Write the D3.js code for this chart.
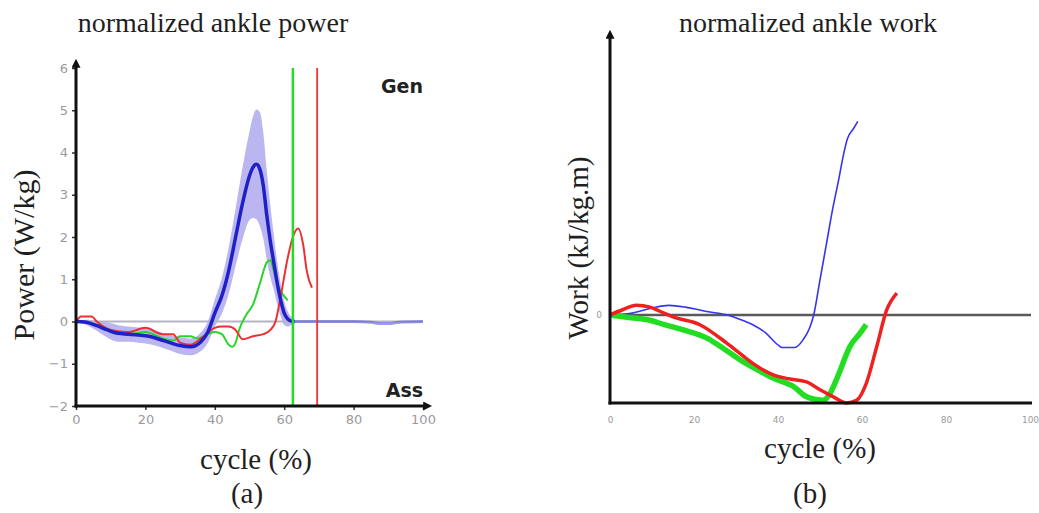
<!DOCTYPE html>
<html>
<head>
<meta charset="utf-8">
<title></title>
<style type="text/css">
body { margin: 0; background: #fff; }
.serif { font-family: "Liberation Serif", "DejaVu Serif", serif; fill: #1f1f1f; }
.tick text { font-family: "DejaVu Sans", Verdana, sans-serif; fill: #9a9a9a; }
</style>
</head>
<body>
<svg width="1039" height="513"></svg>
<script src="https://d3js.org/d3.v7.min.js"></script>
<script>
// (a) ankle power, W/kg
var cycleA = [0,3,6,9,12,15,18,21,24,27,30,33,36,38,40,42,44,46,48,50,51,52,53,54,55,56,57,58,59,60,61,62,63]
var powerMean = [0,-0.02,-0.1,-0.2,-0.28,-0.3,-0.32,-0.35,-0.42,-0.5,-0.57,-0.6,-0.48,-0.25,0.2,0.6,1.2,2.0,2.8,3.45,3.65,3.72,3.6,3.2,2.5,1.9,1.4,0.9,0.5,0.2,0.06,0.01,0]
var powerSd = [0.03,0.06,0.12,0.18,0.2,0.18,0.18,0.18,0.18,0.18,0.2,0.2,0.22,0.25,0.32,0.42,0.55,0.68,0.85,1.05,1.2,1.3,1.35,1.25,1.05,0.85,0.65,0.5,0.38,0.28,0.18,0.1,0.05]
var cycleTail = [63,70,80,85,88,90,93,100]
var powerTail = [0,0,0,-0.02,-0.05,-0.05,-0.02,0]
var cycleG = [0,5,10,15,20,25,28,30,33,35,38,40,42,44,45,46,47,49,51,53,55,56,57,58,60,61]
var powerGreen = [0,-0.05,-0.2,-0.3,-0.25,-0.4,-0.45,-0.35,-0.35,-0.4,-0.3,-0.25,-0.3,-0.55,-0.6,-0.5,-0.2,0.15,0.4,0.9,1.4,1.45,1.2,0.9,0.6,0.5]
var cycleR = [0,1.5,4.5,6,10,15,20,25,28,30,33,36,40,42,44,46,48,51,54,56,57.5,59,61,62.5,64,65.5,66.5,68]
var powerRed = [0,0.12,0.12,0,-0.2,-0.25,-0.15,-0.3,-0.3,-0.5,-0.55,-0.4,-0.15,-0.12,-0.12,-0.2,-0.42,-0.35,-0.3,-0.2,0,0.6,1.5,2.0,2.2,1.8,1.2,0.8]
var toeOffGreen = 62.5
var toeOffRed = 69.5
var powerTicks = [-2,-1,0,1,2,3,4,5,6]

// (b) ankle work, no scale given
var cycleWB = [0,5,10,14,18,23,28,31,34,37,40,41,44,46,47.5,48.5,50,51.5,53,54.5,55.5,56.5,58,59]
var workBlue = [0,0.02,0.08,0.11,0.09,0.04,0,-0.05,-0.11,-0.2,-0.34,-0.37,-0.37,-0.28,-0.15,0,0.4,0.8,1.2,1.55,1.8,2.0,2.12,2.2]
var cycleWG = [0,5,9.5,13,17.5,23,27,31,35,39,43.6,46.8,49,50.8,52.4,53.5,54.8,56,57.1,59.5,61]
var workGreen = [0,-0.03,-0.06,-0.11,-0.17,-0.26,-0.38,-0.51,-0.62,-0.72,-0.81,-0.93,-0.96,-0.97,-0.89,-0.78,-0.63,-0.48,-0.36,-0.21,-0.11]
var cycleWR = [0,3,6.3,9.5,12,15,21.4,27.8,31,34,38.9,42,46.8,50,53.2,56.3,58.7,61,63.5,65.9,68.3]
var workRed = [0,0.06,0.11,0.09,0.04,-0.02,-0.11,-0.32,-0.44,-0.55,-0.68,-0.72,-0.76,-0.85,-0.93,-1.0,-0.97,-0.78,-0.36,0.06,0.25]

var cycleTicks = [0,20,40,60,80,100]

var svg = d3.select("svg")
svg.append("rect").attr("width", 1039).attr("height", 513).attr("fill", "#fff")

var defs = svg.append("defs")
defs.append("marker").attr("id", "arrow")
	.attr("viewBox", "0 0 10 10").attr("refX", 2).attr("refY", 5)
	.attr("markerWidth", 3).attr("markerHeight", 3).attr("orient", "auto")
	.append("path").attr("d", "M0,0L10,5L0,10z").attr("fill", "#111")

function zip(xs, ys) {
	return xs.map(function(x, i) { return [x, ys[i]] })
}

// ---------- panel (a) ----------
var xA = d3.scaleLinear().domain([0, 100]).range([76, 423])
var yA = d3.scaleLinear().domain([-2, 6]).range([406, 68])

var gA = svg.append("g")

var band = cycleA.map(function(c, i) { return { x: c, lo: powerMean[i] - powerSd[i], hi: powerMean[i] + powerSd[i] } })
gA.append("path")
	.datum(band)
	.attr("fill", "rgba(120,110,225,0.5)")
	.attr("d", d3.area().curve(d3.curveMonotoneX)
		.x(function(d) { return xA(d.x) })
		.y0(function(d) { return yA(d.lo) })
		.y1(function(d) { return yA(d.hi) }))

gA.append("line")
	.attr("x1", xA(0)).attr("x2", xA(100))
	.attr("y1", yA(0)).attr("y2", yA(0))
	.attr("stroke", "#b4b4c4").attr("stroke-width", 2)

var lineA = d3.line().curve(d3.curveMonotoneX)
	.x(function(d) { return xA(d[0]) })
	.y(function(d) { return yA(d[1]) })

gA.append("path").datum(zip(cycleTail, powerTail))
	.attr("fill", "none").attr("stroke", "rgba(90,90,220,0.6)").attr("stroke-width", 3)
	.attr("d", lineA)
gA.append("path").datum(zip(cycleG, powerGreen))
	.attr("fill", "none").attr("stroke", "#2ad42a").attr("stroke-width", 2)
	.attr("d", lineA)
gA.append("path").datum(zip(cycleR, powerRed))
	.attr("fill", "none").attr("stroke", "#ee3030").attr("stroke-width", 2)
	.attr("d", lineA)
gA.append("path").datum(zip(cycleA, powerMean))
	.attr("fill", "none").attr("stroke", "#2020c8").attr("stroke-width", 3.5)
	.attr("d", lineA)

gA.append("line")
	.attr("x1", xA(toeOffGreen)).attr("x2", xA(toeOffGreen))
	.attr("y1", yA(6)).attr("y2", yA(-2))
	.attr("stroke", "#22dd22").attr("stroke-width", 2.5)
gA.append("line")
	.attr("x1", xA(toeOffRed)).attr("x2", xA(toeOffRed))
	.attr("y1", yA(6)).attr("y2", yA(-2))
	.attr("stroke", "#ee3333").attr("stroke-width", 1.8)

var axYA = gA.append("g")
	.attr("transform", "translate(" + xA(0) + ",0)")
	.call(d3.axisLeft(yA).tickValues(powerTicks).tickSize(4).tickPadding(4).tickFormat(d3.format("d")))
var axXA = gA.append("g")
	.attr("transform", "translate(0," + yA(-2) + ")")
	.call(d3.axisBottom(xA).tickValues(cycleTicks).tickSize(4).tickPadding(5))
axYA.selectAll(".tick text").style("font-size", "13px")
axXA.selectAll(".tick text").style("font-size", "13px")
gA.selectAll(".domain").remove()
gA.selectAll(".tick line").attr("stroke", "#333").attr("stroke-width", 1.5)

gA.append("line")
	.attr("x1", xA(0)).attr("x2", xA(0))
	.attr("y1", yA(-2) + 1.5).attr("y2", yA(6) - 2)
	.attr("stroke", "#111").attr("stroke-width", 3).attr("marker-end", "url(#arrow)")
gA.append("line")
	.attr("x1", xA(0) - 1.5).attr("x2", xA(100) + 2)
	.attr("y1", yA(-2)).attr("y2", yA(-2))
	.attr("stroke", "#111").attr("stroke-width", 3).attr("marker-end", "url(#arrow)")

gA.append("text").text("Gen")
	.attr("x", 423).attr("y", 93).attr("text-anchor", "end")
	.style("font-family", "'DejaVu Sans', sans-serif").style("font-weight", "bold")
	.style("font-size", "19px").attr("fill", "#222")
gA.append("text").text("Ass")
	.attr("x", 423).attr("y", 397).attr("text-anchor", "end")
	.style("font-family", "'DejaVu Sans', sans-serif").style("font-weight", "bold")
	.style("font-size", "19px").attr("fill", "#222")

gA.append("text").attr("class", "serif").text("normalized ankle power")
	.attr("x", 213).attr("y", 32).attr("text-anchor", "middle").style("font-size", "28px")
gA.append("text").attr("class", "serif").text("Power (W/kg)")
	.attr("transform", "translate(34,255) rotate(-90)")
	.attr("text-anchor", "middle").style("font-size", "30px")
gA.append("text").attr("class", "serif").text("cycle (%)")
	.attr("x", 256).attr("y", 469).attr("text-anchor", "middle").style("font-size", "29px")
gA.append("text").attr("class", "serif").text("(a)")
	.attr("x", 247).attr("y", 503).attr("text-anchor", "middle").style("font-size", "29px")

// ---------- panel (b) ----------
var xB = d3.scaleLinear().domain([0, 100]).range([610, 1030])
var yB = d3.scaleLinear().domain([-1, 3.16]).range([403, 37])

var gB = svg.append("g")

gB.append("line")
	.attr("x1", xB(0)).attr("x2", xB(100) + 1)
	.attr("y1", yB(0)).attr("y2", yB(0))
	.attr("stroke", "#5a5a5a").attr("stroke-width", 2.5)

var lineB = d3.line().curve(d3.curveMonotoneX)
	.x(function(d) { return xB(d[0]) })
	.y(function(d) { return yB(d[1]) })

gB.append("path").datum(zip(cycleWB, workBlue))
	.attr("fill", "none").attr("stroke", "#3535ee").attr("stroke-width", 1.6)
	.attr("d", lineB)
gB.append("path").datum(zip(cycleWG, workGreen))
	.attr("fill", "none").attr("stroke", "#22dd22").attr("stroke-width", 5.5)
	.attr("d", lineB)
gB.append("path").datum(zip(cycleWR, workRed))
	.attr("fill", "none").attr("stroke", "#ee2020").attr("stroke-width", 3.5)
	.attr("d", lineB)

var axXB = gB.append("g")
	.attr("transform", "translate(0," + yB(-1) + ")")
	.call(d3.axisBottom(xB).tickValues(cycleTicks).tickSize(0).tickPadding(14))
var axYB = gB.append("g")
	.attr("transform", "translate(" + xB(0) + ",0)")
	.call(d3.axisLeft(yB).tickValues([0]).tickSize(0).tickPadding(8).tickFormat(d3.format("d")))
gB.selectAll(".domain").remove()
gB.selectAll(".tick text").style("font-size", "9px")

gB.append("line")
	.attr("x1", xB(0)).attr("x2", xB(0))
	.attr("y1", yB(-1) + 1.5).attr("y2", yB(3.16))
	.attr("stroke", "#111").attr("stroke-width", 3).attr("marker-end", "url(#arrow)")
gB.append("line")
	.attr("x1", xB(0) - 1.5).attr("x2", xB(100) + 2)
	.attr("y1", yB(-1)).attr("y2", yB(-1))
	.attr("stroke", "#111").attr("stroke-width", 3)

gB.append("text").attr("class", "serif").text("normalized ankle work")
	.attr("x", 808).attr("y", 32).attr("text-anchor", "middle").style("font-size", "28px")
gB.append("text").attr("class", "serif").text("Work (kJ/kg.m)")
	.attr("transform", "translate(588,248) rotate(-90)")
	.attr("text-anchor", "middle").style("font-size", "29px")
gB.append("text").attr("class", "serif").text("cycle (%)")
	.attr("x", 820).attr("y", 458).attr("text-anchor", "middle").style("font-size", "29px")
gB.append("text").attr("class", "serif").text("(b)")
	.attr("x", 810).attr("y", 503).attr("text-anchor", "middle").style("font-size", "29px")
</script>
</body>
</html>
